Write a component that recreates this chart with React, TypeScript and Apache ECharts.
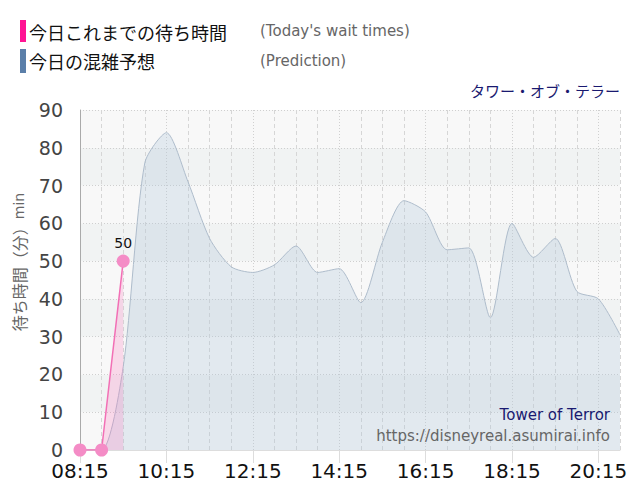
import React, { useEffect, useRef } from 'react';
import * as echarts from 'echarts';

// 30分刻みの時刻
const times = [
  '08:15', '08:45', '09:15', '09:45', '10:15', '10:45', '11:15', '11:45',
  '12:15', '12:45', '13:15', '13:45', '14:15', '14:45', '15:15', '15:45',
  '16:15', '16:45', '17:15', '17:45', '18:15', '18:45', '19:15', '19:45',
  '20:15', '20:45'
];

// 今日の混雑予想
const prediction = [
  0, 0, 22, 76, 84, 71, 56, 48.5, 47, 49, 54, 47, 48, 39, 55, 66,
  63, 53, 53.5, 35, 60, 51, 56, 42, 40, 30.5
];

// 今日これまでの待ち時間
const actual = [0, 0, 50];

const FONT = "'DejaVu Sans', 'Noto Sans CJK JP', sans-serif";
const JP = "'Noto Sans CJK JP', 'DejaVu Sans', sans-serif";

export default function App() {
  const chartRef = useRef<HTMLDivElement>(null);

  useEffect(() => {
    const chart = echarts.init(chartRef.current, null, { renderer: 'svg' });

    const option = {
      animation: false,
      backgroundColor: '#fff',
      grid: { left: 80, right: 20, top: 110, bottom: 50 },
      graphic: [
        { type: 'rect', shape: { x: 20, y: 20, width: 6, height: 22 }, style: { fill: '#ff1493' } },
        { type: 'rect', shape: { x: 20, y: 49, width: 6, height: 24 }, style: { fill: '#5b7fa9' } },
        {
          type: 'text', x: 29, y: 32,
          style: { text: '今日これまでの待ち時間', fill: '#111', font: `18px ${JP}`, textVerticalAlign: 'middle' }
        },
        {
          type: 'text', x: 29, y: 61,
          style: { text: '今日の混雑予想', fill: '#111', font: `18px ${JP}`, textVerticalAlign: 'middle' }
        },
        {
          type: 'text', x: 260, y: 31,
          style: { text: "(Today's wait times)", fill: '#666', font: `15px ${FONT}`, textVerticalAlign: 'middle' }
        },
        {
          type: 'text', x: 260, y: 61,
          style: { text: '(Prediction)', fill: '#666', font: `15px ${FONT}`, textVerticalAlign: 'middle' }
        },
        {
          type: 'text', x: 620, y: 90,
          style: { text: 'タワー・オブ・テラー', fill: '#191970', font: `15px ${JP}`, textAlign: 'right', textVerticalAlign: 'middle' }
        },
        {
          type: 'text', x: 610, y: 415, z: 10,
          style: { text: 'Tower of Terror', fill: '#191970', font: `15px ${FONT}`, textAlign: 'right', textVerticalAlign: 'middle' }
        },
        {
          type: 'text', x: 610, y: 436, z: 10,
          style: { text: 'https://disneyreal.asumirai.info', fill: '#666', font: `15px ${FONT}`, textAlign: 'right', textVerticalAlign: 'middle' }
        },
        {
          type: 'text', x: 19, y: 262, rotation: Math.PI / 2,
          style: {
            text: '{a|待ち時間（分）}{b|min}',
            textAlign: 'center',
            textVerticalAlign: 'middle',
            rich: {
              a: { fontSize: 16, fill: '#666', fontFamily: JP },
              b: { fontSize: 14, fill: '#666', fontFamily: FONT }
            }
          }
        }
      ],
      xAxis: [
        {
          type: 'category',
          data: times,
          boundaryGap: false,
          axisLine: { show: true, lineStyle: { color: '#ddd' } },
          axisTick: { show: true, interval: 3, length: 13, lineStyle: { color: '#ddd' } },
          axisLabel: { interval: 3, color: '#111', fontSize: 20, fontFamily: FONT, margin: 11 },
          splitLine: {
            show: true,
            interval: (i: number) => i % 4 !== 0,
            lineStyle: { color: '#d6d6d6', type: [4, 3] }
          }
        },
        {
          type: 'category',
          data: times,
          boundaryGap: false,
          position: 'bottom',
          axisLine: { show: false },
          axisTick: { show: false },
          axisLabel: { show: false },
          splitLine: {
            show: true,
            interval: (i: number) => i % 4 === 0,
            lineStyle: { color: '#d0d0d0', type: [1, 2] }
          }
        }
      ],
      yAxis: {
        type: 'value',
        min: 0,
        max: 90,
        interval: 10,
        axisLine: { show: true, lineStyle: { color: '#aaa' } },
        axisTick: { show: false },
        axisLabel: { color: '#444', fontSize: 19, fontFamily: FONT, margin: 17 },
        splitLine: { show: true, lineStyle: { color: '#cfcfcf', type: [1, 2] } },
        splitArea: { show: true, areaStyle: { color: ['#f8f8f8', '#f1f3f3'] } }
      },
      series: [
        {
          name: '今日の混雑予想',
          type: 'line',
          data: prediction,
          smooth: 0.25,
          symbol: 'none',
          lineStyle: { color: '#aebccb', width: 1 },
          areaStyle: { color: 'rgba(175,196,216,0.42)' },
          z: 2
        },
        {
          name: '今日これまでの待ち時間',
          type: 'line',
          data: actual,
          symbol: 'circle',
          symbolSize: 13,
          itemStyle: { color: '#f48cc6' },
          lineStyle: { color: '#f26fb5', width: 1.5 },
          areaStyle: { color: 'rgba(255,120,190,0.35)' },
          label: {
            show: true,
            position: 'top',
            distance: 5,
            color: '#111',
            fontSize: 14,
            fontFamily: FONT,
            formatter: (p: any) => (p.dataIndex === actual.length - 1 ? String(p.value) : '')
          },
          z: 3
        }
      ]
    };

    chart.setOption(option);
    return () => {
      chart.dispose();
    };
  }, []);

  return (
    <div
      ref={chartRef}
      style={{ position: 'absolute', left: 0, top: 0, width: '640px', height: '500px' }}
    ></div>
  );
}
